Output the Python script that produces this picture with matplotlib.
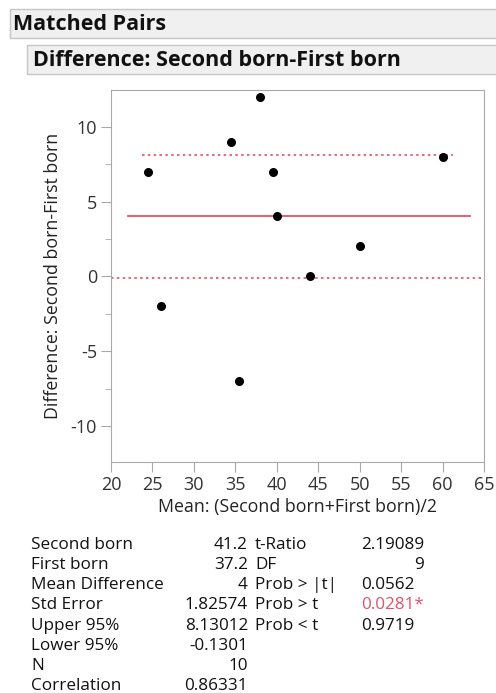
import matplotlib.pyplot as plt
from matplotlib.patches import Rectangle
from matplotlib.ticker import MultipleLocator

# =============================
# DATA
# =============================
mean_x = [24.5, 26, 34.5, 38, 39.5, 40, 44, 50, 60, 35.5]
diff_y = [7, -2, 9, 12, 7, 4, 0, 2, 8, -7]

mean_diff = 4
upper_95 = 8.13012
lower_95 = -0.1301
# x extent of each reference line as drawn in the report
mean_span = [22, 63.3]
upper_span = [23.7, 61.3]
lower_span = [20, 65]

x_ticks = [20, 25, 30, 35, 40, 45, 50, 55, 60, 65]
y_ticks = [-10, -5, 0, 5, 10]

left_labels = ["Second born", "First born", "Mean Difference", "Std Error",
               "Upper 95%", "Lower 95%", "N", "Correlation"]
left_values = ["41.2", "37.2", "4", "1.82574", "8.13012", "-0.1301", "10", "0.86331"]
right_labels = ["t-Ratio", "DF", "Prob > |t|", "Prob > t", "Prob < t"]
right_values = ["2.19089", "9", "0.0562", "0.0281*", "0.9719"]

# =============================
# STYLE
# =============================
W, H = 496, 693
FONT = "Open Sans"
RED = "#e2526c"
GREY = "#a8a8a8"
plt.rcParams["font.family"] = [FONT, "DejaVu Sans"]
plt.rcParams["axes.unicode_minus"] = False

fig = plt.figure(figsize=(W / 100, H / 100), dpi=100)


def fx(x):
    return x / W


def fy(y):
    return 1 - y / H


# header bars
for x0, y0, y1, txt, tx in [(10, 9, 38, "Matched Pairs", 13),
                            (27, 45, 74, "Difference: Second born-First born", 33)]:
    fig.patches.append(Rectangle((fx(x0), fy(y1)), fx(W + 10 - x0), (y1 - y0) / H,
                                 transform=fig.transFigure, facecolor="#f0f0f0",
                                 edgecolor="#c6c6c6", lw=1))
    fig.text(fx(tx), fy((y0 + y1) / 2 + 1), txt, fontsize=15.5, fontweight="bold",
             va="center", ha="left", color="#111111")

# =============================
# PLOT
# =============================
ax = fig.add_axes([fx(111), fy(462), fx(484) - fx(111), (462 - 90) / H])
ax.scatter(mean_x, diff_y, s=30, color="black", zorder=3)
ax.plot(mean_span, [mean_diff, mean_diff], color=RED, lw=1.3)
ax.plot(upper_span, [upper_95, upper_95], color=RED, lw=1.2, ls=(0, (1.5, 2)))
ax.plot(lower_span, [lower_95, lower_95], color=RED, lw=1.2, ls=(0, (1.5, 2)))

ax.set_xlim(20, 65)
ax.set_ylim(-12.4, 12.45)
ax.set_xticks(x_ticks)
ax.set_yticks(y_ticks)
ax.yaxis.set_minor_locator(MultipleLocator(2.5))
for sp in ax.spines.values():
    sp.set_color(GREY)
ax.tick_params(axis="both", which="major", length=7, color=GREY,
               labelsize=13, labelcolor="#333333", pad=3)
ax.tick_params(axis="y", which="minor", length=4, color=GREY)
ax.set_xlabel("Mean: (Second born+First born)/2", fontsize=12.8, color="#222222", labelpad=3)
ax.set_ylabel("Difference: Second born-First born", fontsize=12.8, color="#222222", labelpad=6)

# =============================
# STATS TABLE
# =============================
row_y = 549
step = 20.15
FS = 12.3
for i, (lab, val) in enumerate(zip(left_labels, left_values)):
    y = fy(row_y + i * step)
    fig.text(fx(31), y, lab, fontsize=FS, va="baseline", ha="left", color="#111111")
    fig.text(fx(248), y, val, fontsize=FS, va="baseline", ha="right", color="#111111")
for i, (lab, val) in enumerate(zip(right_labels, right_values)):
    y = fy(row_y + i * step)
    fig.text(fx(255), y, lab, fontsize=FS, va="baseline", ha="left", color="#111111")
    col = RED if val.endswith("*") else "#111111"
    if val == "9":
        fig.text(fx(424), y, val, fontsize=FS, va="baseline", ha="right", color=col)
    else:
        fig.text(fx(361), y, val, fontsize=FS, va="baseline", ha="left", color=col)

plt.savefig("out.png", dpi=100)
